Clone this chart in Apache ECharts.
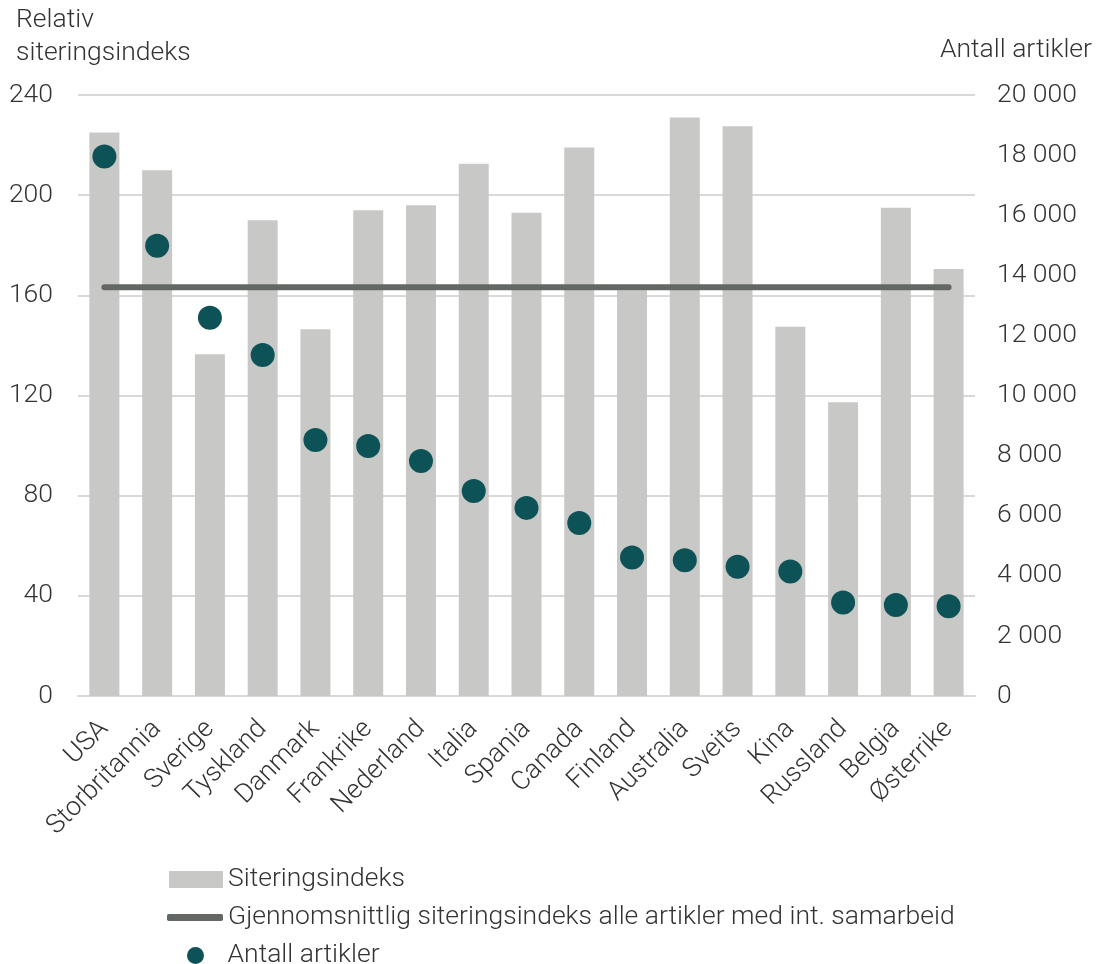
<!DOCTYPE html>
<html><head><meta charset="utf-8">
<script src="https://cdn.jsdelivr.net/npm/echarts@6/dist/echarts.min.js"></script>
<style>html,body{margin:0;padding:0;background:#fff}#c{width:1102px;height:964px}</style>
</head><body><div id="c"></div>
<script>
const categories = ['USA','Storbritannia','Sverige','Tyskland','Danmark','Frankrike','Nederland','Italia','Spania','Canada','Finland','Australia','Sveits','Kina','Russland','Belgia','Østerrike'];
const siteringsindeks = [225,210,136.5,190,146.5,194,196,212.5,193,219,162,231,227.5,147.5,117.3,195,170.5];
const gjennomsnitt = 163.2;
const antallArtikler = [17950,14980,12590,11350,8520,8320,7820,6820,6260,5760,4610,4520,4300,4140,3110,3030,2990];
const leftTicks = {min:0, max:240, interval:40};
const rightTicks = {min:0, max:20000, interval:2000};

const FONT = 'Roboto';
const FS = 26.5;
const TXT = '#333333';
const chart = echarts.init(document.getElementById('c'), null, {renderer:'canvas'});
const lineData = categories.map(() => gjennomsnitt);
const fmt = v => String(v).replace(/\B(?=(\d{3})+(?!\d))/g, ' ');
const legendBase = {orient:'vertical', itemGap:0, padding:0, textStyle:{fontFamily:FONT, fontWeight:300, fontSize:FS, color:TXT}};
chart.setOption({
  animation:false,
  textStyle:{fontFamily:FONT},
  grid:{left:78, right:127, top:95, bottom:268, containLabel:false},
  graphic:[
    {type:'text', left:16, top:4, style:{text:'Relativ\nsiteringsindeks', fontFamily:FONT, fontWeight:300, fontSize:FS, lineHeight:33, fill:TXT}},
    {type:'text', right:10, top:37, style:{text:'Antall artikler', fontFamily:FONT, fontWeight:300, fontSize:FS, fill:TXT}}
  ],
  legend:[
    Object.assign({}, legendBase, {left:169, top:866, itemWidth:54, itemHeight:17, data:[{name:'Siteringsindeks', icon:'rect'}]}),
    Object.assign({}, legendBase, {left:167, top:904, itemWidth:56, itemHeight:7, data:[{name:'Gjennomsnittlig siteringsindeks alle artikler med int. samarbeid', icon:'roundRect'}]}),
    Object.assign({}, legendBase, {left:187, top:942, itemWidth:54, itemHeight:17, data:[{name:'Antall artikler', icon:'circle'}]})
  ],
  xAxis:{type:'category', data:categories,
    axisLine:{lineStyle:{color:'#d9d9d9', width:2}}, axisTick:{show:false},
    axisLabel:{rotate:45, interval:0, fontFamily:FONT, fontWeight:300, fontSize:FS, color:TXT, margin:29}},
  yAxis:[
    {type:'value', min:leftTicks.min, max:leftTicks.max, interval:leftTicks.interval,
     axisLine:{show:false}, axisTick:{show:false},
     splitLine:{lineStyle:{color:'#d9d9d9', width:2}},
     axisLabel:{fontFamily:FONT, fontWeight:300, fontSize:FS, color:TXT, margin:25}},
    {type:'value', min:rightTicks.min, max:rightTicks.max, interval:rightTicks.interval,
     axisLine:{show:false}, axisTick:{show:false}, splitLine:{show:false},
     axisLabel:{fontFamily:FONT, fontWeight:300, fontSize:FS, color:TXT, margin:22, formatter:fmt}}
  ],
  series:[
    {name:'Siteringsindeks', type:'bar', data:siteringsindeks, barWidth:30, yAxisIndex:0,
     itemStyle:{color:'#c8c9c7'}, z:2},
    {name:'Gjennomsnittlig siteringsindeks alle artikler med int. samarbeid', type:'line', data:lineData, yAxisIndex:0,
     symbol:'none', lineStyle:{color:'#646864', width:6, cap:'round'}, itemStyle:{color:'#646864'}, z:3},
    {name:'Antall artikler', type:'scatter', data:antallArtikler, yAxisIndex:1, symbolSize:24,
     itemStyle:{color:'#0d5257', opacity:1}, z:4}
  ]
});
</script></body></html>
